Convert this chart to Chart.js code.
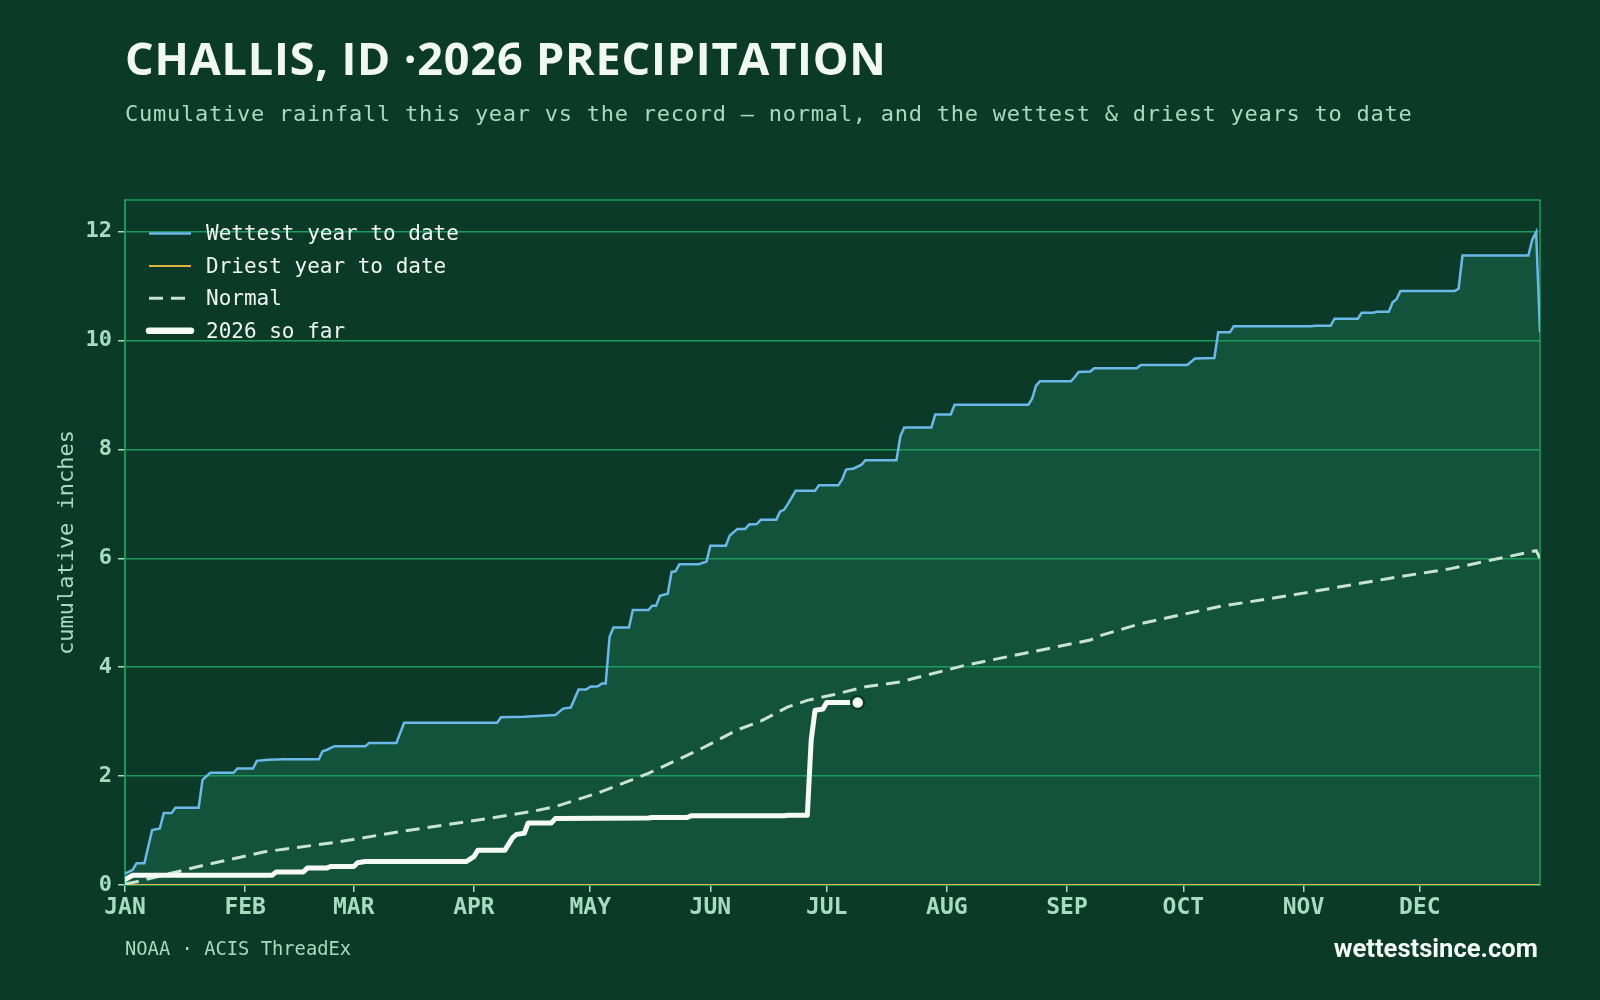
<!DOCTYPE html>
<html>
<head>
<meta charset="utf-8">
<script src="https://cdn.jsdelivr.net/npm/chart.js@4.4.1/dist/chart.umd.min.js"></script>
<style>
  body { margin: 0; background: #0c3a29; }
  #wrap { position: relative; width: 1600px; height: 1000px; overflow: hidden; }
  #chart { position: absolute; left: 0; top: 0; }
  .t { position: absolute; white-space: nowrap; }
  #title { left: 125px; top: 35px; font: 700 45px/45px "Open Sans"; color: #f1f8f2; letter-spacing: 0.8px; }
  #subtitle { left: 125px; top: 103px; font: 22px/22px "DejaVu Sans Mono"; color: #a6dcbf; letter-spacing: 0.75px; }
  #source { left: 125px; top: 939px; font: 18.8px/19px "DejaVu Sans Mono"; color: #a6dcbf; }
  #site { right: 62px; top: 935px; font: 700 25.6px/26px Roboto; color: #f4faf5; }
</style>
</head>
<body>
<div id="wrap">
  <canvas id="chart" width="1600" height="1000"></canvas>
  <div class="t" id="title">CHALLIS, ID ·2026 PRECIPITATION</div>
  <div class="t" id="subtitle">Cumulative rainfall this year vs the record — normal, and the wettest &amp; driest years to date</div>
  <div class="t" id="source">NOAA · ACIS ThreadEx</div>
  <div class="t" id="site">wettestsince.com</div>
</div>
<script>
// day of year (0 = Jan 1) and cumulative inches
const monthDays = [0, 31, 59, 90, 120, 151, 181, 212, 243, 273, 304, 334];
const monthLabels = ['JAN', 'FEB', 'MAR', 'APR', 'MAY', 'JUN', 'JUL', 'AUG', 'SEP', 'OCT', 'NOV', 'DEC'];
const yTicks = [0, 2, 4, 6, 8, 10, 12];

const wettestDays = [0, 2, 3, 5, 7, 9, 10, 12, 13, 19, 20, 22, 28, 29, 33, 34, 37, 41, 50, 51, 52, 54, 62, 63, 70, 72,
    96, 97, 103, 111, 113, 115, 117, 119, 120, 122, 123, 124, 125, 126, 130, 131, 135, 136, 137, 138, 140, 141, 142, 143,
    148, 150, 151, 155, 156, 158, 160, 161, 163, 164, 168, 169, 170, 171, 173, 178, 179, 184, 185, 186, 188, 190, 191,
    199, 200, 201, 208, 209, 213, 214, 233, 234, 235, 236, 244, 245, 246, 249, 250, 261, 262, 274, 276, 281, 282, 285,
    286, 306, 307, 311, 312, 318, 319, 322, 323, 326, 327, 328, 329, 343, 344, 345, 362, 363, 364, 365];
const wettestInches = [0.21, 0.28, 0.40, 0.40, 1.01, 1.04, 1.32, 1.32, 1.42, 1.42, 1.93, 2.06, 2.06, 2.14, 2.14, 2.28, 2.30, 2.31, 2.31, 2.46, 2.48, 2.55, 2.55, 2.61, 2.61, 2.98,
    2.98, 3.08, 3.09, 3.12, 3.24, 3.26, 3.59, 3.59, 3.64, 3.65, 3.70, 3.70, 4.56, 4.73, 4.73, 5.05, 5.05, 5.13, 5.13, 5.31, 5.35, 5.75, 5.76, 5.89,
    5.89, 5.94, 6.23, 6.23, 6.42, 6.54, 6.54, 6.62, 6.63, 6.71, 6.71, 6.86, 6.89, 7.00, 7.24, 7.24, 7.34, 7.34, 7.45, 7.63, 7.65, 7.72, 7.80,
    7.80, 8.24, 8.40, 8.40, 8.64, 8.64, 8.82, 8.82, 8.93, 9.17, 9.25, 9.25, 9.33, 9.42, 9.43, 9.49, 9.49, 9.55, 9.55, 9.67, 9.68, 10.15, 10.15,
    10.26, 10.26, 10.27, 10.27, 10.40, 10.40, 10.51, 10.51, 10.53, 10.53, 10.70, 10.76, 10.91, 10.91, 10.95, 11.56, 11.56, 11.85, 11.99, 10.15];

const driestDays = [0, 365];
const driestInches = [0, 0];

const normalDays = [0, 3, 19, 36, 54, 71, 88, 105, 111, 122, 135, 148, 158, 164, 171, 176, 183, 191, 200,
    217, 238, 249, 252, 262, 282, 304, 326, 342, 354, 364, 365];
const normalInches = [0.02, 0.06, 0.34, 0.61, 0.78, 0.98, 1.16, 1.35, 1.44, 1.69, 2.05, 2.48, 2.85, 3.01, 3.27, 3.39, 3.50, 3.64, 3.73,
    4.04, 4.34, 4.50, 4.59, 4.80, 5.11, 5.36, 5.63, 5.81, 5.99, 6.14, 6.00];

const thisYearDays = [0, 2, 38, 39, 46, 47, 52, 53, 59, 60, 62, 88, 90, 91, 98, 100, 101, 103, 104, 110, 111, 135, 136,
    145, 146, 170, 171, 176, 177, 178, 180, 181, 189];
const thisYearInches = [0.10, 0.18, 0.18, 0.24, 0.24, 0.31, 0.31, 0.34, 0.34, 0.41, 0.43, 0.43, 0.52, 0.64, 0.64, 0.87, 0.93, 0.95, 1.14, 1.14, 1.22, 1.23, 1.24,
    1.24, 1.27, 1.27, 1.28, 1.28, 2.66, 3.21, 3.23, 3.35, 3.35];

const bg = '#0c3a29';
const mint = '#a6dcbf';
const gridGreen = '#1f9a5f';

function points(days, vals) {
    return days.map((d, i) => ({ x: d, y: vals[i] }));
}

// legend sits inside the plot, top-left
const insideLegend = {
    id: 'insideLegend',
    afterDatasetsDraw(chart) {
        const { ctx, chartArea } = chart;
        ctx.save();
        ctx.font = '21px "DejaVu Sans Mono"';
        ctx.textBaseline = 'middle';
        chart.data.datasets.forEach((ds, i) => {
            const x = chartArea.left + 24;
            const y = chartArea.top + 33.5 + i * 32.4;
            ctx.strokeStyle = ds.borderColor;
            ctx.lineWidth = ds.borderCapStyle === 'round' ? ds.borderWidth + 1.5 : ds.borderWidth;
            ctx.lineCap = ds.borderCapStyle || 'butt';
            ctx.setLineDash(ds.borderDash || []);
            ctx.beginPath();
            ctx.moveTo(x, y);
            ctx.lineTo(x + 42, y);
            ctx.stroke();
            ctx.setLineDash([]);
            ctx.fillStyle = '#eef6f0';
            ctx.fillText(ds.label, x + 57, y + 1.5);
        });
        ctx.restore();
    }
};

// green frame round the plot area
const frame = {
    id: 'frame',
    beforeDatasetsDraw(chart) {
        const { ctx, chartArea } = chart;
        ctx.save();
        ctx.strokeStyle = gridGreen;
        ctx.lineWidth = 1.5;
        ctx.strokeRect(chartArea.left, chartArea.top, chartArea.right - chartArea.left, chartArea.bottom - chartArea.top);
        ctx.restore();
    }
};

function buildChart() {
    const ctx = document.getElementById('chart').getContext('2d');
    const lastIdx = thisYearDays.length - 1;

    new Chart(ctx, {
        type: 'line',
        data: {
            datasets: [{
                label: 'Wettest year to date',
                data: points(wettestDays, wettestInches),
                borderColor: '#6cb9e9',
                borderWidth: 2.5,
                backgroundColor: '#13523b',
                fill: 1,
                pointRadius: 0,
                order: 1
            }, {
                label: 'Driest year to date',
                data: points(driestDays, driestInches),
                borderColor: '#e3b341',
                borderWidth: 2,
                fill: false,
                pointRadius: 0,
                order: 3
            }, {
                label: 'Normal',
                data: points(normalDays, normalInches),
                borderColor: '#c9e4d3',
                borderWidth: 3,
                borderDash: [14, 8],
                fill: false,
                pointRadius: 0,
                order: 2
            }, {
                label: '2026 so far',
                data: points(thisYearDays, thisYearInches),
                borderColor: '#f5faf6',
                borderWidth: 5,
                borderJoinStyle: 'round',
                borderCapStyle: 'round',
                fill: false,
                pointRadius: c => c.dataIndex === lastIdx ? 6.5 : 0,
                pointBackgroundColor: '#f5faf6',
                pointBorderColor: bg,
                pointBorderWidth: 2.5,
                order: 0
            }]
        },
        options: {
            responsive: false,
            animation: false,
            layout: { padding: { left: 25, right: 60, top: 200, bottom: 15 } },
            plugins: {
                legend: { display: false },
                tooltip: { enabled: false },
                filler: { drawTime: 'beforeDraw' }
            },
            scales: {
                x: {
                    type: 'linear',
                    min: 0,
                    max: 365,
                    afterFit: s => { s.height = 100; },
                    afterBuildTicks: s => { s.ticks = monthDays.map(v => ({ value: v })); },
                    grid: { drawOnChartArea: false, drawTicks: true, tickLength: 7, tickColor: mint, lineWidth: 1.5 },
                    border: { display: false },
                    ticks: {
                        autoSkip: false,
                        maxRotation: 0,
                        padding: 2,
                        color: mint,
                        font: { family: 'DejaVu Sans Mono', weight: 'bold', size: 23 },
                        callback: v => monthLabels[monthDays.indexOf(v)]
                    }
                },
                y: {
                    min: 0,
                    max: 12.58,
                    afterFit: s => { s.width = 100; },
                    afterBuildTicks: s => { s.ticks = yTicks.map(v => ({ value: v })); },
                    grid: { color: gridGreen, lineWidth: 1.5, tickLength: 7, tickColor: mint },
                    border: { color: gridGreen, width: 1.5 },
                    ticks: {
                        padding: 6,
                        color: mint,
                        font: { family: 'DejaVu Sans Mono', weight: 'bold', size: 22 }
                    },
                    title: {
                        display: true,
                        text: 'cumulative inches',
                        color: mint,
                        font: { family: 'DejaVu Sans Mono', size: 22 },
                        padding: { top: 29, bottom: 0 }
                    }
                }
            }
        },
        plugins: [frame, insideLegend]
    });
}

buildChart();
</script>
</body>
</html>
